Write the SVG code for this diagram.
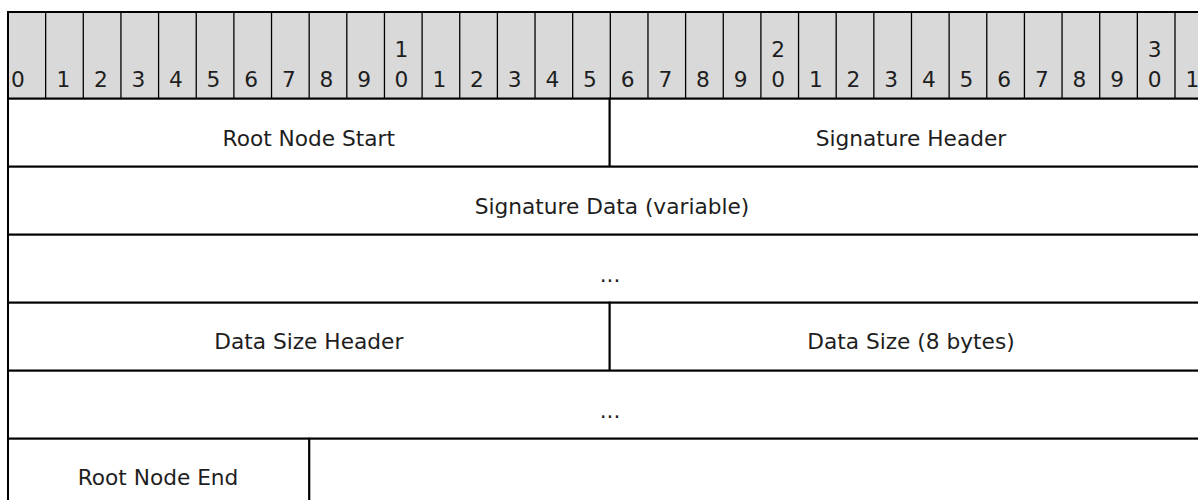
<svg xmlns="http://www.w3.org/2000/svg" width="1198" height="500" viewBox="0 0 1198 500">
<style>
.hdr{fill:#d9d9d9;stroke:#000;stroke-width:2}
.col{stroke:#000;stroke-width:1.3}
.cell{fill:#fff;stroke:#000;stroke-width:2}
text{font-family:"DejaVu Sans","Liberation Sans",sans-serif;font-size:21.7px;fill:#1e1e1e;text-anchor:middle}
</style>
<rect width="1198" height="500" fill="#fff"/>
<g id="bit-header">
<rect class="hdr" x="8" y="12" width="1205" height="86.7"/>
<g id="bit-columns">
<line class="col" x1="45.65" y1="12" x2="45.65" y2="98.7"/>
<line class="col" x1="83.29" y1="12" x2="83.29" y2="98.7"/>
<line class="col" x1="120.94" y1="12" x2="120.94" y2="98.7"/>
<line class="col" x1="158.58" y1="12" x2="158.58" y2="98.7"/>
<line class="col" x1="196.23" y1="12" x2="196.23" y2="98.7"/>
<line class="col" x1="233.87" y1="12" x2="233.87" y2="98.7"/>
<line class="col" x1="271.52" y1="12" x2="271.52" y2="98.7"/>
<line class="col" x1="309.16" y1="12" x2="309.16" y2="98.7"/>
<line class="col" x1="346.81" y1="12" x2="346.81" y2="98.7"/>
<line class="col" x1="384.45" y1="12" x2="384.45" y2="98.7"/>
<line class="col" x1="422.1" y1="12" x2="422.1" y2="98.7"/>
<line class="col" x1="459.74" y1="12" x2="459.74" y2="98.7"/>
<line class="col" x1="497.39" y1="12" x2="497.39" y2="98.7"/>
<line class="col" x1="535.03" y1="12" x2="535.03" y2="98.7"/>
<line class="col" x1="572.68" y1="12" x2="572.68" y2="98.7"/>
<line class="col" x1="610.32" y1="12" x2="610.32" y2="98.7"/>
<line class="col" x1="647.97" y1="12" x2="647.97" y2="98.7"/>
<line class="col" x1="685.61" y1="12" x2="685.61" y2="98.7"/>
<line class="col" x1="723.26" y1="12" x2="723.26" y2="98.7"/>
<line class="col" x1="760.9" y1="12" x2="760.9" y2="98.7"/>
<line class="col" x1="798.55" y1="12" x2="798.55" y2="98.7"/>
<line class="col" x1="836.19" y1="12" x2="836.19" y2="98.7"/>
<line class="col" x1="873.84" y1="12" x2="873.84" y2="98.7"/>
<line class="col" x1="911.48" y1="12" x2="911.48" y2="98.7"/>
<line class="col" x1="949.13" y1="12" x2="949.13" y2="98.7"/>
<line class="col" x1="986.77" y1="12" x2="986.77" y2="98.7"/>
<line class="col" x1="1024.42" y1="12" x2="1024.42" y2="98.7"/>
<line class="col" x1="1062.06" y1="12" x2="1062.06" y2="98.7"/>
<line class="col" x1="1099.71" y1="12" x2="1099.71" y2="98.7"/>
<line class="col" x1="1137.35" y1="12" x2="1137.35" y2="98.7"/>
<line class="col" x1="1175" y1="12" x2="1175" y2="98.7"/>
</g>
<g id="bit-labels">
<text x="18" y="87">0</text>
<text x="63.5" y="87">1</text>
<text x="101" y="87">2</text>
<text x="138.5" y="87">3</text>
<text x="176" y="87">4</text>
<text x="213.5" y="87">5</text>
<text x="251.2" y="87">6</text>
<text x="288.8" y="87">7</text>
<text x="326.5" y="87">8</text>
<text x="364.1" y="87">9</text>
<text x="401.5" y="57">1</text><text x="401.5" y="87">0</text>
<text x="439.4" y="87">1</text>
<text x="477" y="87">2</text>
<text x="514.7" y="87">3</text>
<text x="552.3" y="87">4</text>
<text x="590" y="87">5</text>
<text x="627.6" y="87">6</text>
<text x="665.3" y="87">7</text>
<text x="702.9" y="87">8</text>
<text x="740.6" y="87">9</text>
<text x="778.2" y="57">2</text><text x="778.2" y="87">0</text>
<text x="815.9" y="87">1</text>
<text x="853.5" y="87">2</text>
<text x="891.2" y="87">3</text>
<text x="928.8" y="87">4</text>
<text x="966.5" y="87">5</text>
<text x="1004.1" y="87">6</text>
<text x="1041.8" y="87">7</text>
<text x="1079.4" y="87">8</text>
<text x="1117.1" y="87">9</text>
<text x="1154.7" y="57">3</text><text x="1154.7" y="87">0</text>
<text x="1192.4" y="87">1</text>
</g>
</g>
<g id="root-node-start"><rect class="cell" x="8" y="98.7" width="601.7" height="68"/><text x="308.8" y="145.7">Root Node Start</text></g>
<g id="signature-header"><rect class="cell" x="609.7" y="98.7" width="603.3" height="68"/><text x="911" y="145.7">Signature Header</text></g>
<g id="signature-data"><rect class="cell" x="8" y="166.7" width="1205" height="68"/><text x="612" y="213.7">Signature Data (variable)</text></g>
<g id="signature-data-cont"><rect class="cell" x="8" y="234.7" width="1205" height="68"/><text x="610" y="281.7">...</text></g>
<g id="data-size-header"><rect class="cell" x="8" y="302.7" width="601.7" height="68"/><text x="308.8" y="349.4">Data Size Header</text></g>
<g id="data-size"><rect class="cell" x="609.7" y="302.7" width="603.3" height="68"/><text x="911" y="349.4">Data Size (8 bytes)</text></g>
<g id="data-cont"><rect class="cell" x="8" y="370.7" width="1205" height="68"/><text x="610" y="417.5">...</text></g>
<g id="root-node-end"><rect class="cell" x="8" y="438.7" width="301.3" height="68"/><text x="158" y="485.3">Root Node End</text></g>
<g id="empty-tail"><rect class="cell" x="309.3" y="438.7" width="903.7" height="68"/></g>
<g id="connectors"></g>
</svg>
